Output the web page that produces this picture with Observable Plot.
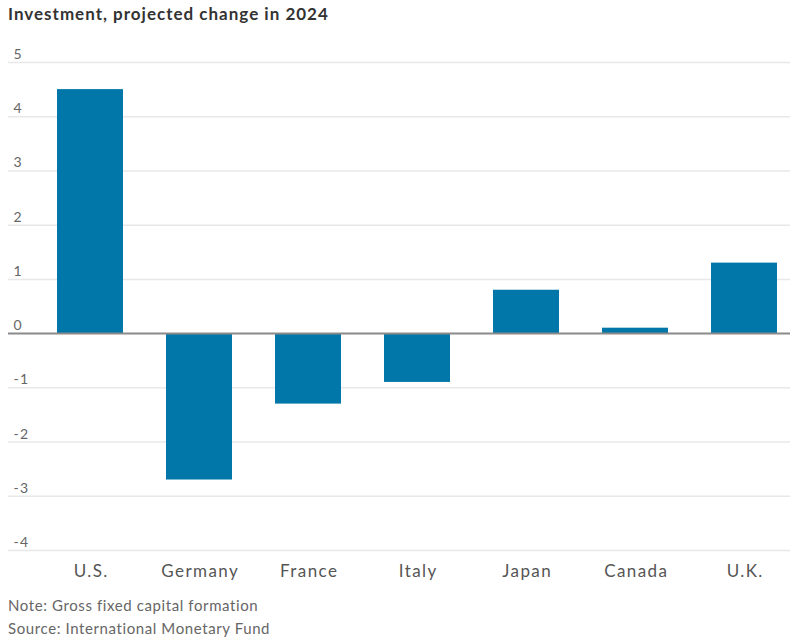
<!DOCTYPE html>
<html>
<head>
<meta charset="utf-8">
<script src="https://cdn.jsdelivr.net/npm/d3@7"></script>
<script src="https://cdn.jsdelivr.net/npm/@observablehq/plot@0.6"></script>
<style>
  body { margin: 0; background: #fff; font-family: Lato, "Noto Sans", sans-serif; }
  #title { height: 30px; line-height: 28px; padding-left: 8px; font-size: 17px; font-weight: 700; color: #333; letter-spacing: 1px; }
  #chart svg { display: block; }
  #notes { padding-left: 8px; font-size: 15px; line-height: 23px; color: #666; margin-top: 4px; letter-spacing: 0.6px; }
</style>
</head>
<body>
<div id="title">Investment, projected change in 2024</div>
<div id="chart"></div>
<div id="notes">
  <div>Note: Gross fixed capital formation</div>
  <div>Source: International Monetary Fund</div>
</div>
<script>
const countries = ["U.S.", "Germany", "France", "Italy", "Japan", "Canada", "U.K."];
const values = [4.5, -2.7, -1.3, -0.9, 0.8, 0.1, 1.3];
const yTicks = [5, 4, 3, 2, 1, 0, -1, -2, -3, -4];

const data = countries.map((c, i) => ({country: c, value: values[i]}));

const chart = Plot.plot({
  width: 791,
  height: 560,
  marginTop: 32,
  marginBottom: 40,
  marginLeft: 8,
  marginRight: 1,
  style: {fontFamily: "Lato, 'Noto Sans', sans-serif", background: "#fff", letterSpacing: "1.4px"},
  x: {domain: countries, range: [46, 788], paddingInner: 0.394, paddingOuter: 0.1, axis: null},
  y: {domain: [-4, 5], axis: null},
  marks: [
    Plot.ruleY(yTicks.filter(d => d !== 0), {stroke: "#e8e8e8", strokeWidth: 1.5}),
    Plot.barY(data, {x: "country", y: "value", fill: "#0077a8"}),
    Plot.ruleY([0], {stroke: "#8a8a8a", strokeWidth: 2}),
    Plot.text(yTicks, {y: d => d, text: d => String(d), frameAnchor: "left", textAnchor: "start", dx: 5, dy: -8, lineAnchor: "middle", fontSize: 14, fill: "#666"}),
    Plot.text(countries, {x: d => d, text: d => d, frameAnchor: "bottom", dy: 21, dx: 0.7, lineAnchor: "middle", fontSize: 17, fill: "#555"})
  ]
});
document.getElementById("chart").appendChild(chart);
</script>
</body>
</html>
